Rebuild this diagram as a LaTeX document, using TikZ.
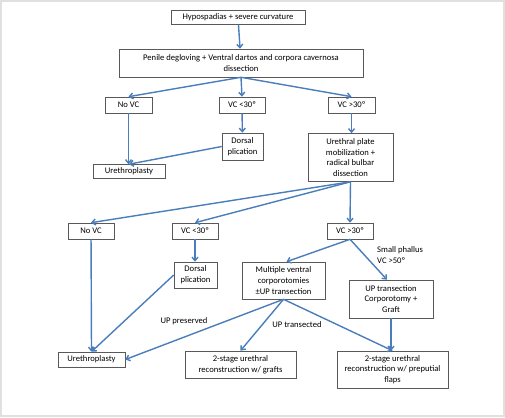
\documentclass[tikz,border=0pt]{standalone}
\usepackage{fontspec}
\setmainfont{Carlito}
\usetikzlibrary{arrows.meta}
\definecolor{flowblue}{HTML}{4A7EBB}
\begin{document}
\begin{tikzpicture}[x=1pt, y=-1pt,
        stepbox/.style={draw=black!65, line width=0.6pt, fill=white, align=center,
            inner sep=1pt, font=\fontsize{8.6}{10.6}\selectfont},
        flow/.style={draw=flowblue, line width=1.4pt,
            -{Straight Barb[length=3.5pt,width=6pt]}},
        tag/.style={font=\fontsize{8.6}{10.6}\selectfont, inner sep=0pt, align=left}
    ]
    \useasboundingbox (0,0) rectangle (505,417);
    \draw [black!12, line width=1.4pt] (1,1) rectangle (504,416);

    % level 1
    \node [stepbox, minimum width=134pt, minimum height=14pt] (hypo) at (238,17.5)
        {Hypospadias + severe curvature};
    \node [stepbox, minimum width=244pt, minimum height=28pt] (degl) at (241,63)
        {Penile degloving + Ventral dartos and corpora cavernosa\\dissection};
    \node [stepbox, minimum width=47pt, minimum height=16pt] (novcA) at (128.5,105) {No VC};
    \node [stepbox, minimum width=46pt, minimum height=16pt] (vcltA) at (242,105) {VC <30º};
    \node [stepbox, minimum width=47pt, minimum height=16pt] (vcgtA) at (351.5,105) {VC >30º};
    \node [stepbox, minimum width=41pt, minimum height=27pt] (dorsA) at (242.5,146.5)
        {Dorsal\\plication};
    \node [stepbox, minimum width=72pt, minimum height=14pt] (urethA) at (129,171.5)
        {Urethroplasty};
    \node [stepbox, minimum width=85pt, minimum height=48pt] (upmob) at (350.5,157.5)
        {Urethral plate\\mobilization +\\radical bulbar\\dissection};

    % level 2
    \node [stepbox, minimum width=46pt, minimum height=16pt] (novcB) at (91,231) {No VC};
    \node [stepbox, minimum width=46pt, minimum height=16pt] (vcltB) at (195,231) {VC <30º};
    \node [stepbox, minimum width=46pt, minimum height=16pt] (vcgtB) at (350,231) {VC >30º};
    \node [stepbox, minimum width=43pt, minimum height=26pt] (dorsB) at (195.5,275)
        {Dorsal\\plication};
    \node [stepbox, minimum width=83pt, minimum height=37pt] (multi) at (283.5,280.5)
        {Multiple ventral\\corporotomies\\±UP transection};
    \node [stepbox, minimum width=84pt, minimum height=38pt] (uptr) at (391,299)
        {UP transection\\Corporotomy +\\Graft};
    \node [stepbox, minimum width=67pt, minimum height=15pt] (urethB) at (91.5,359.5)
        {Urethroplasty};
    \node [stepbox, minimum width=111pt, minimum height=27pt] (graft) at (240.5,364.5)
        {2-stage urethral\\reconstruction w/ grafts};
    \node [stepbox, minimum width=111pt, minimum height=37pt] (flaps) at (392.5,369.5)
        {2-stage urethral\\reconstruction w/ preputial\\flaps};

    % labels
    \node [tag, anchor=north west] (small) at (377,246.5) {Small phallus\\VC >50º};
    \node [tag] (pres) at (184,321) {UP preserved};
    \node [tag] (trans) at (297,325) {UP transected};

    % connectors
    \draw [flow] (hypo) -- (degl);
    \foreach \n in {novcA,vcltA,vcgtA}
        \draw [flow] (degl.south) -- (\n.north);
    \draw [flow] (novcA) -- (urethA.north -| novcA);
    \draw [flow] (vcltA) -- (dorsA);
    \draw [flow] (dorsA.west) -- (urethA.north);
    \draw [flow] (vcgtA) -- (upmob.north -| vcgtA);
    \foreach \n in {novcB,vcltB,vcgtB}
        \draw [flow] (upmob.south) -- (\n.north);
    \draw [flow] (novcB) -- (urethB.north);
    \draw [flow] (vcltB) -- (dorsB.north -| vcltB);
    \draw [flow] (dorsB.west) -- (urethB.north);
    \draw [flow] (vcgtB.south) -- ([xshift=3pt]multi.north);
    \draw [flow] (vcgtB.south) -- ([xshift=-4pt]uptr.north);
    \draw [flow] (multi.south) -- (urethB.east);
    \draw [flow] (multi.south) -- (graft.north);
    \draw [flow] (multi.south) -- (flaps.north);
    \draw [flow] (uptr) -- (flaps.north -| uptr);
\end{tikzpicture}
\end{document}
